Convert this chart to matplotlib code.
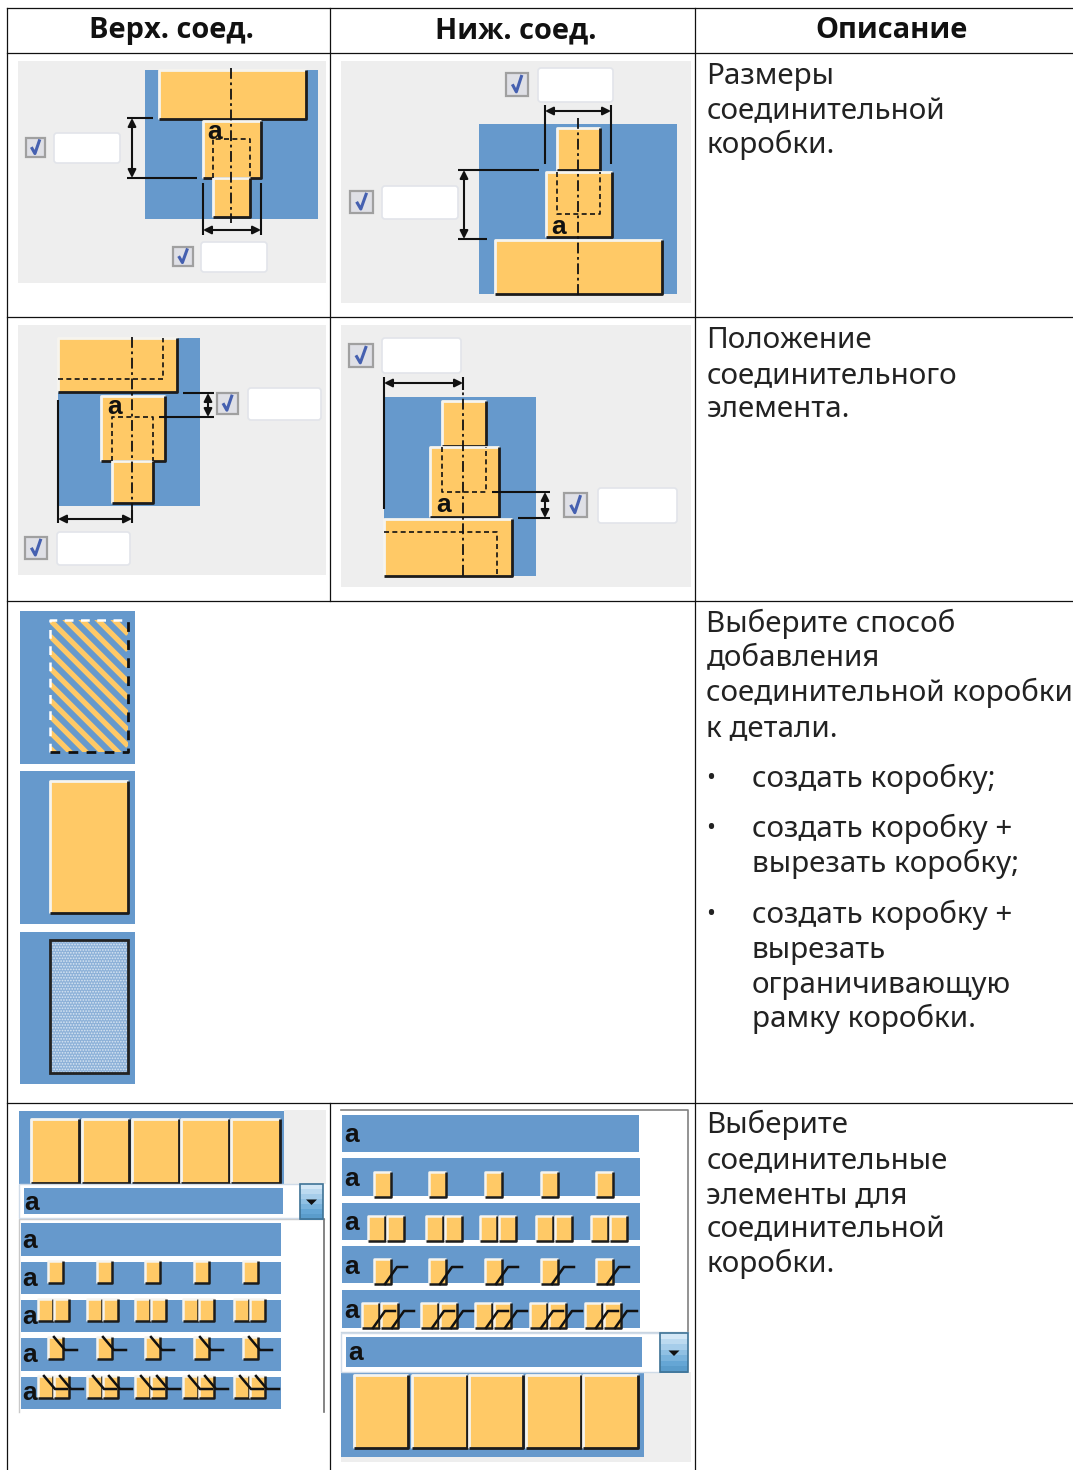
import matplotlib
matplotlib.use("Agg")
from matplotlib import pyplot as plt
from matplotlib.patches import Rectangle, FancyBboxPatch, Polygon

ORANGE = "#ffc966"
BLUE = "#6699cc"
GREY = "#eeeeee"
INK = "#111111"

header_x = [171.5, 515.5, 892]
headers = ["Верх. соед.", "Ниж. соед.", "Описание"]

hlines = [7.5, 53, 317, 601, 1102.5]
vlines = [(7, 7.5, 1470), (330, 7.5, 601), (330, 1102.5, 1470), (695, 7.5, 1470)]

# text, x, baseline y
desc_lines = [
    ("Размеры", 707, 84), ("соединительной", 707, 119), ("коробки.", 707, 153),
    ("Положение", 707, 348), ("соединительного", 707, 383), ("элемента.", 707, 417),
    ("Выберите способ", 707, 632), ("добавления", 707, 666),
    ("соединительной коробки", 707, 701), ("к детали.", 707, 736),
    ("создать коробку;", 752, 787),
    ("создать коробку +", 752, 837), ("вырезать коробку;", 752, 872),
    ("создать коробку +", 752, 923), ("вырезать", 752, 958),
    ("ограничивающую", 752, 993), ("рамку коробки.", 752, 1027),
    ("Выберите", 707, 1133), ("соединительные", 707, 1168), ("элементы для", 707, 1203),
    ("соединительной", 707, 1237), ("коробки.", 707, 1272),
]
bullets_y = [779, 829, 915]

# panels: x0, x1, y0, y1
grey_boxes = [(18, 326, 61, 283), (341, 691, 61, 303), (18, 326, 325, 575), (341, 691, 325, 587),
              (284, 326, 1110, 1184), (644, 691, 1372, 1462), (341, 644, 1457, 1462)]
blue_boxes = [(145, 318, 70, 219), (479, 677, 124, 294), (58, 200, 338, 506), (384, 536, 397, 576),
              (20, 135, 611, 764), (20, 135, 771, 924), (20, 135, 932, 1084),
              (19, 284, 1111, 1184), (341, 644, 1372, 1457)]
orange_boxes = [
    (159, 306, 70, 119), (203, 261, 121, 178), (213, 250, 178, 217),
    (557, 600, 128, 170), (546, 612, 172, 237), (495, 662, 240, 294),
    (58, 177, 338, 392), (101, 165, 396, 461), (112, 153, 461, 503),
    (442, 486, 401, 446), (430, 499, 447, 517), (384, 512, 519, 576),
    (50, 128, 781, 913),
    (31, 79, 1119, 1183), (82, 129, 1119, 1183), (132, 179, 1119, 1183), (181, 229, 1119, 1183), (231, 280, 1119, 1183),
    (354, 408, 1375, 1448), (412, 467, 1375, 1448), (469, 523, 1375, 1448), (526, 581, 1375, 1448), (583, 638, 1375, 1448),
]
center_lines = [(231, 68, 223), (578, 118, 296), (132, 337, 523), (463, 378, 577)]
# dashed outlines, as x list and y list
dashed_paths = [
    ([213, 213, 250, 250], [178, 139, 139, 178]),
    ([557, 557, 600, 600], [172, 214, 214, 172]),
    ([112, 112, 153, 153], [461, 417, 417, 461]),
    ([442, 442, 486, 486], [447, 492, 492, 447]),
    ([58, 163, 163], [379, 379, 338]),
    ([384, 497, 497], [532, 532, 576]),
]
solid_lines = [
    (127, 118, 153, 118), (127, 178, 197, 178), (203, 183, 203, 235), (261, 183, 261, 235),
    (545, 105, 545, 164), (611, 105, 611, 164), (458, 170, 539, 170), (458, 239, 487, 239),
    (183, 393, 214, 393), (159, 417, 214, 417), (58, 400, 58, 523), (132, 510, 132, 523),
    (384, 377, 384, 509), (463, 377, 463, 390), (492, 492, 550, 492), (518, 518, 550, 518),
]
# double arrows
v_arrows = [(132, 118, 178), (464, 170, 239), (208, 393, 417), (545, 492, 518)]
h_arrows = [(203, 261, 230), (545, 611, 111), (58, 132, 519), (384, 463, 383)]
big_a = [(215, 131), (559, 226), (115, 406), (444, 504)]

checkboxes = [(26, 45, 138, 157), (173, 193, 247, 266), (506, 528, 73, 96), (350, 373, 191, 213),
              (217, 238, 393, 414), (25, 47, 537, 559), (349, 373, 344, 367), (564, 587, 493, 517)]
inputs = [(54, 120, 133, 163), (201, 267, 242, 272), (538, 613, 68, 102), (382, 458, 186, 219),
          (248, 321, 388, 420), (57, 130, 532, 565), (382, 461, 338, 373), (598, 677, 488, 523)]

hatch_box = (50, 128, 620, 752)
dotted_box = (50, 128, 940, 1073)

# dropdown rows: x0, x1, y0, y1
left_rows = [(21, 281, 1223, 1256), (21, 281, 1262, 1294), (21, 281, 1300, 1332), (21, 281, 1338, 1371), (21, 281, 1377, 1409)]
right_rows = [(342, 639, 1115, 1152), (342, 640, 1158, 1196), (342, 640, 1203, 1240), (342, 640, 1246, 1283), (342, 640, 1290, 1328)]
left_a = [(30, 1241), (30, 1278), (30, 1317), (30, 1355), (30, 1393)]
right_a = [(352, 1135), (352, 1179), (352, 1222), (352, 1266), (352, 1310)]
left_single = [48, 97, 145, 194, 243]
left_pairs = [38, 87, 135, 183, 234]
right_single = [374, 429, 485, 541, 596]
right_pairs = [368, 426, 480, 536, 591]
right_pairs2 = [362, 421, 475, 530, 585]

left_combo = dict(white=(19, 300, 1184, 1218), blue=(24, 283, 1188, 1214), btn=(300, 323, 1184, 1219), a=(32, 1202))
right_combo = dict(white=(341, 660, 1333, 1372), blue=(346, 642, 1337, 1367), btn=(660, 688, 1333, 1372), a=(356, 1353))
button_shades = ["#d3e7f6", "#bcdaf0", "#a6cdea", "#90c0e3", "#7ab3dc", "#65a6d5", "#5a9ccb"]

fig = plt.figure(figsize=(10.73, 14.7), dpi=100)
ax = fig.add_axes([0, 0, 1, 1])
ax.set_xlim(0, 1073)
ax.set_ylim(1470, 0)
ax.axis("off")
plt.rcParams["hatch.linewidth"] = 0.8


def rect(b, color, z=1, **kw):
    ax.add_patch(Rectangle((b[0], b[2]), b[1] - b[0], b[3] - b[2], facecolor=color, edgecolor="none", zorder=z, **kw))


def raised(b, z=3, lw=2):
    # orange box with white top/left and dark bottom/right edge
    rect(b, ORANGE, z)
    ax.plot([b[0], b[0], b[1]], [b[3], b[2], b[2]], color="#f6f4ee", lw=lw, zorder=z, solid_capstyle="butt")
    ax.plot([b[0], b[1], b[1]], [b[3], b[3], b[2]], color="#1c1c1c", lw=lw, zorder=z, solid_capstyle="butt")


def line(x0, y0, x1, y1, lw=1.5, z=5, **kw):
    ax.plot([x0, x1], [y0, y1], color=kw.pop("color", INK), lw=lw, zorder=z, solid_capstyle="butt", **kw)


def letter(x, y, z=6):
    ax.text(x, y + 7.5, "a", ha="center", va="baseline", fontsize=19, fontweight="bold", family="Liberation Sans", color=INK, zorder=z)


for b in grey_boxes:
    rect(b, GREY, 1)
for b in blue_boxes:
    rect(b, BLUE, 2)
for b in orange_boxes:
    raised(b)

for x, y0, y1 in center_lines:
    ax.plot([x, x], [y0, y1], color=INK, lw=1.3, ls=(0, (6, 2, 1.5, 2)), zorder=5)
for xs, ys in dashed_paths:
    ax.plot(xs, ys, color=INK, lw=1.2, ls=(0, (3, 2)), zorder=5)
for x0, y0, x1, y1 in solid_lines:
    line(x0, y0, x1, y1)
for x, y0, y1 in v_arrows:
    ax.annotate("", (x, y0), (x, y1), arrowprops=dict(arrowstyle="<|-|>", color=INK, lw=1.5, shrinkA=0, shrinkB=0, mutation_scale=12), zorder=5)
for x0, x1, y in h_arrows:
    ax.annotate("", (x0, y), (x1, y), arrowprops=dict(arrowstyle="<|-|>", color=INK, lw=1.5, shrinkA=0, shrinkB=0, mutation_scale=12), zorder=5)
for x, y in big_a:
    letter(x, y)

for b in inputs:
    ax.add_patch(FancyBboxPatch((b[0] + 2, b[2] + 2), b[1] - b[0] - 4, b[3] - b[2] - 4, boxstyle="round,pad=2,rounding_size=3",
                                facecolor="white", edgecolor="#e2e4ea", lw=1.2, zorder=4))
for b in checkboxes:
    ax.add_patch(Rectangle((b[0], b[2]), b[1] - b[0], b[3] - b[2], facecolor="#dfe0e6", edgecolor="#a0a0a0", lw=1.6, zorder=4))
    w, h = b[1] - b[0], b[3] - b[2]
    ax.plot([b[0] + .32 * w, b[0] + .47 * w, b[0] + .7 * w], [b[2] + .55 * h, b[2] + .82 * h, b[2] + .15 * h], color="#4560b0", lw=2.2, zorder=5)

# striped panel
clip = Rectangle((hatch_box[0], hatch_box[2]), hatch_box[1] - hatch_box[0], hatch_box[3] - hatch_box[2], transform=ax.transData)
for k in range(-9, 9):
    start = hatch_box[2] + k * 16
    ln, = ax.plot([hatch_box[0], hatch_box[1]], [start, start + 78], color=ORANGE, lw=3.8, zorder=3, solid_capstyle="butt")
    ln.set_clip_path(clip)
hx0, hx1, hy0, hy1 = hatch_box
ax.plot([hx0, hx0, hx1], [hy1, hy0, hy0], color="white", lw=1.8, ls=(0, (3.5, 3)), zorder=4)
ax.plot([hx0, hx1, hx1], [hy1, hy1, hy0], color=INK, lw=2, ls=(0, (3.5, 3)), zorder=4)

# dotted panel
ax.add_patch(Rectangle((dotted_box[0], dotted_box[2]), dotted_box[1] - dotted_box[0], dotted_box[3] - dotted_box[2],
                       facecolor="#8db1d8", edgecolor="#d9e6f3", lw=0, hatch="......", zorder=3))
ax.add_patch(Rectangle((dotted_box[0], dotted_box[2]), dotted_box[1] - dotted_box[0], dotted_box[3] - dotted_box[2],
                       facecolor="none", edgecolor="#222222", lw=2, zorder=4))

# left dropdown
ax.plot([19, 19, 324], [1412, 1219, 1219], color="#c9c9c9", lw=1, zorder=2)
ax.plot([324, 324], [1219, 1412], color="#707070", lw=1.2, zorder=2)
for b in left_rows:
    rect(b, BLUE, 3)
for x, y in left_a:
    letter(x, y)

# right dropdown
ax.plot([341, 688, 688], [1110, 1110, 1332], color="#808080", lw=1.2, zorder=2)
ax.plot([341, 688], [1332, 1332], color="#c8d4e0", lw=1, zorder=2)
for b in right_rows:
    rect(b, BLUE, 3)
for x, y in right_a:
    letter(x, y)


def small(x, y0, w, h, tick=0):
    raised((x, x + w, y0, y0 + h), z=4, lw=1.8)
    if tick > 0:
        # line falling to the right across the box corner
        ax.plot([x + 6, x + 17, x + 29], [y0, y0 + 13, y0 + 13], color=INK, lw=1.8, zorder=5)
    elif tick < 0:
        # line rising to the right from the bottom of the box
        ax.plot([x + 11, x + 23, x + 33], [y0 + 25, y0 + 8, y0 + 8], color=INK, lw=1.8, zorder=5)


for x in left_single:
    small(x, 1261, 15, 22)
    small(x, 1337, 15, 22, tick=1)
for x in left_pairs:
    for dx in (0, 16):
        small(x + dx, 1299, 15, 22)
        small(x + dx, 1376, 15, 22, tick=1)
for x in right_single:
    small(x, 1172, 17, 25)
    small(x, 1259, 17, 25, tick=-1)
for x in right_pairs:
    small(x, 1216, 17, 25)
    small(x + 19, 1216, 17, 25)
for x in right_pairs2:
    small(x, 1303, 17, 25, tick=-1)
    small(x + 19, 1303, 17, 25, tick=-1)

for c in (left_combo, right_combo):
    wb = c["white"]
    ax.add_patch(Rectangle((wb[0], wb[2]), wb[1] - wb[0], wb[3] - wb[2], facecolor="white", edgecolor="#cfdbe8", lw=1, zorder=3))
    rect(c["blue"], BLUE, 4)
    letter(*c["a"])
    bx = c["btn"]
    step = (bx[3] - bx[2]) / len(button_shades)
    for i, shade in enumerate(button_shades):
        rect((bx[0], bx[1], bx[2] + i * step, bx[2] + (i + 1) * step + 0.5), shade, 4)
    ax.add_patch(Rectangle((bx[0], bx[2]), bx[1] - bx[0], bx[3] - bx[2], facecolor="none", edgecolor="#3f7396", lw=1.2, zorder=4))
    mx, my = (bx[0] + bx[1]) / 2, (bx[2] + bx[3]) / 2
    ax.add_patch(Polygon([(mx - 5.5, my - 2), (mx + 5.5, my - 2), (mx, my + 3.5)], facecolor=INK, edgecolor="none", zorder=5))

# table
for y in hlines:
    ax.plot([7, 1073], [y, y], color="#111111", lw=0.9, zorder=8)
for x, y0, y1 in vlines:
    ax.plot([x, x], [y0, y1], color="#111111", lw=0.9, zorder=8)

for x, label in zip(header_x, headers):
    ax.text(x, 38, label, ha="center", va="baseline", family="Open Sans", fontweight="bold", fontsize=20.85, color="#111111", zorder=9)
for label, x, y in desc_lines:
    ax.text(x - 0.5, y, label, ha="left", va="baseline", family="Noto Sans", fontsize=21.3, color="#222222", zorder=9)
for y in bullets_y:
    ax.text(711, y, "•", ha="center", va="center", family="Noto Sans", fontsize=17, color="#222222", zorder=9)

fig.savefig("out.png", dpi=100)
